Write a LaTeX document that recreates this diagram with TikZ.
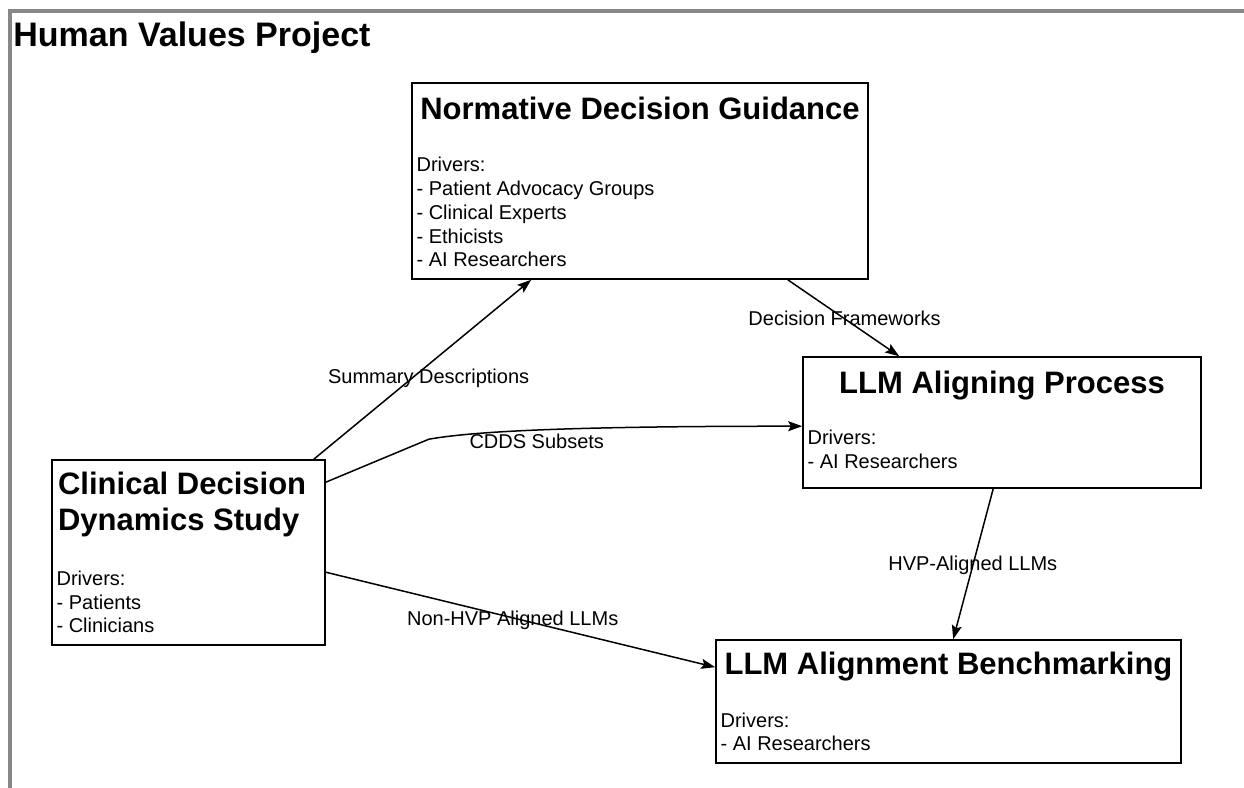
\documentclass[tikz,border=0pt]{standalone}
\usepackage{fontspec}
\setmainfont{Liberation Sans}
\usetikzlibrary{arrows.meta,calc}

\begin{document}
\begin{tikzpicture}[x=0.5pt, y=-0.5pt,
    stage/.style={rectangle, draw, line width=0.8pt, inner sep=0pt},
    heading/.style={inner sep=0pt, font=\bfseries\fontsize{15.5pt}{18pt}\selectfont},
    drivers/.style={inner sep=0pt, align=left, font=\fontsize{10pt}{11.85pt}\selectfont},
    flow/.style={line width=0.75pt, -{Stealth[length=7pt, width=5pt, inset=1.3pt]}},
    flowlabel/.style={inner sep=0pt, font=\fontsize{10pt}{12pt}\selectfont},
    frame/.style={draw=black!47, line width=2pt}
]
\useasboundingbox (0,0) rectangle (1244,788);
\draw[frame] (10.3,788) |- (1244,11.3);
\node[anchor=base west, inner sep=0pt, font=\bfseries\fontsize{17pt}{20pt}\selectfont] (hvp) at (13,46.7) {Human Values Project};

\node[stage, minimum width=228pt, minimum height=98pt] (ndg) at (640,181) {};
\node[stage, minimum width=199pt, minimum height=65.5pt] (lap) at (1002,422.5) {};
\node[stage, minimum width=136.5pt, minimum height=92.5pt] (cdds) at (188.5,552.5) {};
\node[stage, minimum width=232.5pt, minimum height=61.5pt] (lab) at (948.5,701.5) {};

\node[heading, anchor=base] (ndgtitle) at ($(ndg.north)+(0,37)$) {Normative Decision Guidance};
\node[drivers, anchor=base west] (ndgdrv) at ($(ndg.north west)+(5,184.5)$) {Drivers:\\- Patient Advocacy Groups\\- Clinical Experts\\- Ethicists\\- AI Researchers};
\node[heading, anchor=base] (laptitle) at ($(lap.north)+(0,37)$) {LLM Aligning Process};
\node[drivers, anchor=base west] (lapdrv) at ($(lap.north west)+(5,112)$) {Drivers:\\- AI Researchers};
\node[heading, align=left, anchor=base west] (cddstitle) at ($(cdds.north west)+(6.5,71.7)$) {Clinical Decision\\Dynamics Study};
\node[drivers, anchor=base west] (cddsdrv) at ($(cdds.north west)+(5,173.5)$) {Drivers:\\- Patients\\- Clinicians};
\node[heading, anchor=base] (labtitle) at ($(lab.north)+(0,35)$) {LLM Alignment Benchmarking};
\node[drivers, anchor=base west] (labdrv) at ($(lab.north west)+(5,111.7)$) {Drivers:\\- AI Researchers};

\draw[flow] ($(cdds.north east)+(-12,0)$) -- node[flowlabel, pos=0.45, xshift=8.5pt] {Summary Descriptions} ($(ndg.south west)+(120,0)$);
\draw[flow] ($(ndg.south east)+(-81,0)$) -- node[flowlabel, pos=0.51] {Decision Frameworks} ($(lap.north west)+(97,0)$);
\draw[flow] ($(cdds.north east)+(0,23)$) -- ++(103,-43) .. controls +(40,-7) and +(-250,0) .. node[flowlabel, pos=0.5, yshift=-5.5pt] {CDDS Subsets} ($(lap.north west)+(0,70)$);
\draw[flow] ($(cdds.north east)+(0,113)$) -- node[flowlabel, pos=0.48, yshift=-1.5pt] {Non-HVP Aligned LLMs} ($(lab.north west)+(0,28)$);
\draw[flow] ($(lap.south west)+(191,0)$) -- node[flowlabel, pos=0.51] {HVP-Aligned LLMs} ($(lab.north west)+(238,0)$);
\end{tikzpicture}
\end{document}
